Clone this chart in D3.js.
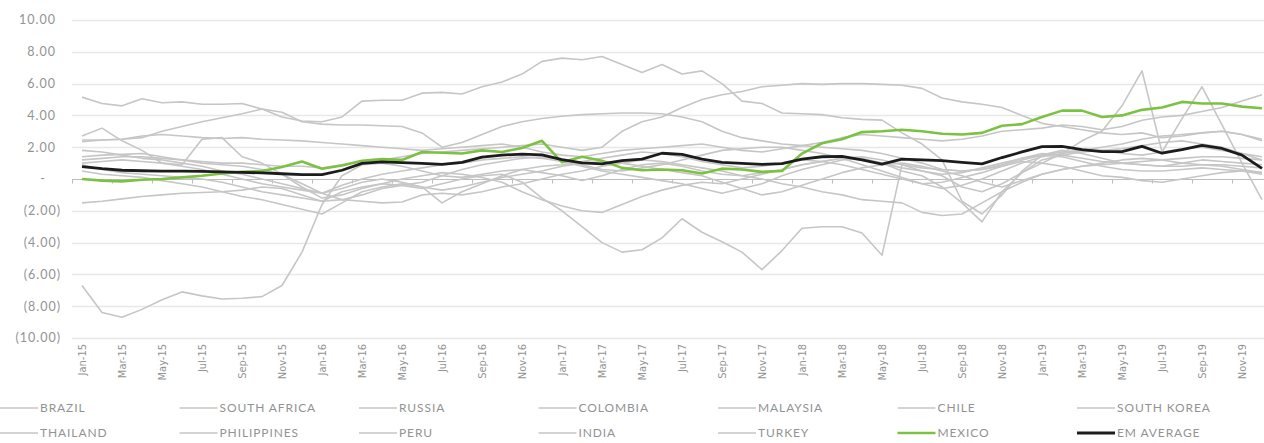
<!DOCTYPE html>
<html>
<head>
<meta charset="utf-8">
<script src="https://cdn.jsdelivr.net/npm/d3@7"></script>
<style>
  body { margin: 0; background: #fff; }
  svg { display: block; }
  .ylab { font-family: "Lato", "Open Sans", sans-serif; font-size: 12.5px; letter-spacing: 1px; fill: #939393; }
  .xlab { font-family: "Liberation Sans Narrow", "DejaVu Sans Condensed", sans-serif; font-size: 11px; fill: #939393; }
  .leg { font-family: "Lato", "Open Sans", sans-serif; font-size: 12px; letter-spacing: 0.9px; fill: #939393; }
</style>
</head>
<body>
<svg id="chart"></svg>
<script>
const monthNames = ["Jan","Feb","Mar","Apr","May","Jun","Jul","Aug","Sep","Oct","Nov","Dec"];
const years = ["15","16","17","18","19"];
const yTicks = [-10, -8, -6, -4, -2, 0, 2, 4, 6, 8, 10];

const seriesNames = ["BRAZIL","SOUTH AFRICA","RUSSIA","COLOMBIA","MALAYSIA","CHILE","SOUTH KOREA",
  "THAILAND","PHILIPPINES","PERU","INDIA","TURKEY","MEXICO","EM AVERAGE"];

const brazil = [5.15,4.75,4.6,5.05,4.8,4.85,4.7,4.7,4.75,4.4,3.9,3.65,3.6,3.9,4.9,4.95,4.95,5.4,5.45,5.35,5.8,6.1,6.6,7.4,7.6,7.5,7.7,7.2,6.7,7.2,6.6,6.8,6.0,4.9,4.75,4.15,4.1,4.05,3.85,3.75,3.7,2.9,2.2,1.2,-1.4,-2.2,-1.0,0.5,1.5,1.8,1.6,1.3,1.0,0.9,0.8,1.0,1.2,1.1,1.0,0.9];
const southAfrica = [2.35,2.45,2.5,2.6,3.0,3.3,3.6,3.85,4.1,4.4,4.2,3.6,3.45,3.4,3.4,3.35,3.3,2.9,2.0,2.3,2.8,3.3,3.6,3.8,3.95,4.05,4.1,4.15,4.15,4.1,3.9,3.6,3.0,2.6,2.4,2.2,2.1,2.0,1.9,1.8,1.6,1.3,1.0,0.6,0.5,0.6,0.8,1.2,1.5,1.4,1.1,0.8,0.6,0.5,0.5,0.6,0.7,0.6,0.5,0.4];
const russia = [-6.7,-8.4,-8.7,-8.2,-7.6,-7.1,-7.35,-7.55,-7.5,-7.4,-6.7,-4.6,-1.6,0.2,0.9,1.0,0.8,0.5,0.2,0.1,0.3,0.5,0.6,0.4,0.2,-0.1,0.2,0.6,0.9,1.0,0.8,0.5,0.3,0.2,0.4,0.6,0.9,1.1,1.3,1.4,1.2,0.9,0.7,0.6,0.5,0.6,0.9,1.3,1.6,1.5,1.3,1.1,1.0,0.9,0.8,0.8,0.9,0.9,0.8,0.7];
const colombia = [1.2,1.3,1.4,1.4,1.3,1.2,1.1,1.0,1.0,0.9,0.8,0.8,0.7,0.9,1.1,1.2,1.4,1.6,1.7,1.8,1.9,2.0,2.1,2.2,2.0,1.8,2.0,3.0,3.6,3.9,4.5,5.0,5.3,5.5,5.8,5.9,6.0,5.95,6.0,6.0,5.95,5.9,5.7,5.1,4.85,4.7,4.5,4.0,3.5,3.3,3.1,2.9,2.8,2.9,2.6,2.7,2.9,3.0,2.8,2.4];
const malaysia = [2.7,3.2,2.4,1.8,1.0,0.9,2.5,2.6,1.4,1.0,0.3,-0.5,-1.2,-1.0,-0.6,-0.3,0.0,0.2,0.4,0.3,0.1,-0.2,-0.8,-1.3,-1.7,-2.0,-2.1,-1.6,-1.1,-0.7,-0.4,-0.2,-0.3,0.0,0.3,0.6,0.9,1.1,1.3,1.2,1.0,0.7,0.5,0.3,0.4,0.7,1.0,1.3,1.5,1.7,1.8,1.8,1.6,1.5,1.7,1.9,2.0,1.8,1.6,1.4];
const chile = [-1.5,-1.4,-1.25,-1.1,-1.0,-0.9,-0.85,-0.8,-0.7,-0.5,-0.6,-1.0,-1.4,-1.3,-1.4,-1.5,-1.45,-1.0,-0.9,-1.0,-0.8,-0.5,-0.3,0.0,0.3,0.5,0.8,1.0,1.2,1.1,0.9,0.7,0.5,0.2,0.0,-0.3,-0.5,-0.8,-1.0,-1.3,-1.4,-1.5,-2.1,-2.3,-2.2,-1.5,-0.8,-0.2,0.3,0.6,0.8,0.9,1.0,1.1,1.2,1.3,1.4,1.4,1.3,1.2];
const southKorea = [2.45,2.45,2.5,2.7,2.8,2.7,2.6,2.55,2.6,2.5,2.45,2.4,2.3,2.2,2.1,2.0,1.9,1.8,1.9,2.0,2.1,2.2,2.0,1.7,1.5,1.4,1.6,1.8,1.9,2.0,2.1,2.2,2.0,1.8,1.7,1.9,2.1,2.3,2.6,2.8,2.7,2.6,2.5,2.4,2.5,2.7,3.0,3.1,3.2,3.4,3.3,3.1,3.3,3.7,3.9,4.0,4.25,4.5,4.9,5.3];
const thailand = [1.4,1.5,1.55,1.6,1.4,1.2,1.0,0.9,0.8,0.6,0.3,-0.3,-0.9,-1.3,-1.0,-0.6,-0.4,-0.2,0.2,0.6,0.9,1.1,1.3,1.4,1.2,0.9,0.6,0.5,0.7,0.9,1.2,1.5,1.8,1.9,2.0,2.0,1.8,1.6,1.3,0.9,0.5,0.1,-0.3,-0.6,-0.4,0.0,0.5,1.0,1.4,1.6,1.8,2.0,2.2,2.5,2.7,2.8,2.9,3.0,2.8,2.5];
const philippines = [0.5,0.3,0.2,0.1,-0.1,-0.3,-0.5,-0.8,-1.1,-1.3,-1.6,-1.9,-2.2,-1.5,-0.8,-0.5,-0.3,-0.5,-0.7,-0.5,-0.2,0.1,0.3,0.5,0.8,1.0,1.1,1.0,0.8,0.6,0.4,0.2,-0.2,-0.6,-1.0,-0.8,-0.4,0.0,0.4,0.7,0.9,1.0,0.8,0.5,0.2,-0.2,-0.5,-0.1,0.3,0.6,0.8,1.0,1.2,1.3,1.2,1.0,0.9,0.8,0.6,0.4];
const peru = [1.0,1.1,1.2,1.1,1.0,0.8,0.6,0.3,0.0,-0.3,-0.5,-0.7,-0.9,-0.4,0.0,0.3,0.5,0.7,0.9,1.0,1.2,1.3,1.4,1.3,1.1,0.8,0.5,0.3,0.1,-0.1,-0.3,-0.6,-0.9,-0.6,-0.3,0.2,0.6,0.9,1.2,1.3,1.0,0.5,0.2,-0.5,-1.5,-2.7,-0.8,0.4,1.2,1.5,1.7,1.8,1.9,2.1,2.3,2.4,2.2,2.0,1.6,1.2];
const india = [1.8,1.7,1.5,1.3,1.2,1.0,0.8,0.5,0.3,0.0,-0.3,-0.6,-0.9,-0.6,-0.2,0.0,-0.2,-0.5,-1.5,-0.8,-0.3,0.2,0.6,0.8,0.9,1.1,1.3,1.5,1.7,1.6,1.4,1.1,0.9,0.7,0.8,1.0,1.2,1.1,0.9,0.6,0.3,0.0,-0.3,-0.2,0.1,0.4,0.8,1.1,1.0,0.8,0.5,0.2,0.1,-0.1,-0.2,0.0,0.2,0.4,0.5,0.3];
const turkey = [0.9,0.6,0.4,0.3,0.2,0.1,0.0,-0.2,-0.5,-0.8,-1.0,-1.2,-1.4,-0.8,-0.5,-0.3,-0.4,-0.6,-0.3,0.0,0.2,0.3,-0.2,-1.2,-2.0,-3.0,-4.0,-4.6,-4.45,-3.7,-2.5,-3.35,-3.95,-4.6,-5.7,-4.5,-3.1,-3.0,-3.0,-3.4,-4.8,0.9,0.5,0.2,-0.5,-0.8,-0.3,0.4,1.0,1.6,2.4,3.0,4.6,6.8,1.7,3.8,5.8,3.4,1.0,-1.3];
const mexico = [0.0,-0.1,-0.15,-0.05,0.0,0.1,0.2,0.35,0.45,0.5,0.75,1.1,0.65,0.85,1.15,1.25,1.2,1.7,1.65,1.6,1.8,1.7,1.95,2.4,1.05,1.4,1.15,0.7,0.55,0.6,0.55,0.35,0.65,0.6,0.45,0.5,1.6,2.25,2.5,2.95,3.0,3.1,3.0,2.85,2.8,2.9,3.35,3.45,3.9,4.3,4.3,3.9,4.0,4.35,4.5,4.85,4.75,4.75,4.55,4.45];
const emAverage = [0.78,0.65,0.55,0.52,0.5,0.5,0.48,0.45,0.42,0.38,0.33,0.27,0.28,0.55,0.98,1.08,1.03,0.98,0.92,1.05,1.38,1.5,1.57,1.52,1.22,1.02,0.95,1.15,1.25,1.62,1.55,1.25,1.05,0.98,0.92,0.97,1.25,1.4,1.42,1.2,0.94,1.25,1.2,1.15,1.05,0.95,1.35,1.7,2.03,2.05,1.85,1.72,1.72,2.05,1.62,1.85,2.12,1.92,1.5,0.67];

const seriesValues = [brazil, southAfrica, russia, colombia, malaysia, chile, southKorea,
  thailand, philippines, peru, india, turkey, mexico, emAverage];

const months = years.flatMap(y => monthNames.map(m => `${m}-${y}`));

const width = 1264, height = 443;
const plot = {left: 72, right: 1272, top: 20, bottom: 338};

const svg = d3.select("#chart")
    .attr("width", width)
    .attr("height", height);

const x = d3.scaleBand()
    .domain(months)
    .range([plot.left, plot.right]);

const y = d3.scaleLinear()
    .domain([-10, 10])
    .range([plot.bottom, plot.top]);

const cx = m => x(m) + x.bandwidth() / 2;

// gridlines
svg.append("g")
    .selectAll("line")
    .data(yTicks.filter(d => d !== 0))
    .join("line")
    .attr("x1", plot.left)
    .attr("x2", width)
    .attr("y1", d => Math.round(y(d)) + 0.5)
    .attr("y2", d => Math.round(y(d)) + 0.5)
    .attr("stroke", "#e8e8e8")
    .attr("stroke-width", 1.5);

// y labels, accounting style
const fmt = v => v === 0 ? "-" : v < 0 ? `(${Math.abs(v).toFixed(2)})` : v.toFixed(2);
svg.append("g")
    .selectAll("text")
    .data(yTicks)
    .join("text")
    .attr("class", "ylab")
    .attr("x", d => d === 0 ? 46 : d < 0 ? 61 : 56)
    .attr("y", d => y(d))
    .attr("dy", "0.35em")
    .attr("text-anchor", "end")
    .text(fmt);

// zero axis line with tick marks every 2 categories
const y0 = Math.round(y(0)) + 0.5;
svg.append("line")
    .attr("x1", plot.left).attr("x2", width)
    .attr("y1", y0).attr("y2", y0)
    .attr("stroke", "#bdbdbd")
    .attr("stroke-width", 1.2);

svg.append("g")
    .selectAll("line")
    .data(months.filter((m, i) => i % 2 === 0))
    .join("line")
    .attr("x1", d => Math.round(x(d)) + 0.5)
    .attr("x2", d => Math.round(x(d)) + 0.5)
    .attr("y1", y0)
    .attr("y2", y0 + 4)
    .attr("stroke", "#bdbdbd");

// x labels
svg.append("g")
    .selectAll("text")
    .data(months.filter((m, i) => i % 2 === 0))
    .join("text")
    .attr("class", "xlab")
    .attr("transform", d => `translate(${cx(d)},${plot.bottom + 6}) rotate(-90)`)
    .attr("dy", "0.35em")
    .attr("text-anchor", "end")
    .text(d => d);

// lines
const line = d3.line()
    .x((d, i) => cx(months[i]))
    .y(d => y(d));

const styleFor = name => name === "MEXICO" ? {c: "#7cc242", w: 2.6}
    : name === "EM AVERAGE" ? {c: "#1c1c1c", w: 2.8}
    : {c: "#c6c6c6", w: 1.6};

svg.append("g")
    .selectAll("path")
    .data(seriesNames.map((n, i) => ({name: n, values: seriesValues[i]})))
    .join("path")
    .attr("fill", "none")
    .attr("stroke", d => styleFor(d.name).c)
    .attr("stroke-width", d => styleFor(d.name).w)
    .attr("stroke-linejoin", "round")
    .attr("d", d => line(d.values));

// legend: two rows of seven
const legendCol = 179.5, legendRow = [408, 433];
const legend = svg.append("g")
    .selectAll("g")
    .data(seriesNames)
    .join("g")
    .attr("transform", (d, i) => `translate(${(i % 7) * legendCol},${legendRow[Math.floor(i / 7)]})`);

legend.append("line")
    .attr("x1", 0)
    .attr("x2", 38)
    .attr("stroke", d => styleFor(d).c)
    .attr("stroke-width", d => styleFor(d).w);

legend.append("text")
    .attr("class", "leg")
    .attr("x", 40)
    .attr("dy", "0.35em")
    .text(d => d);
</script>
</body>
</html>
